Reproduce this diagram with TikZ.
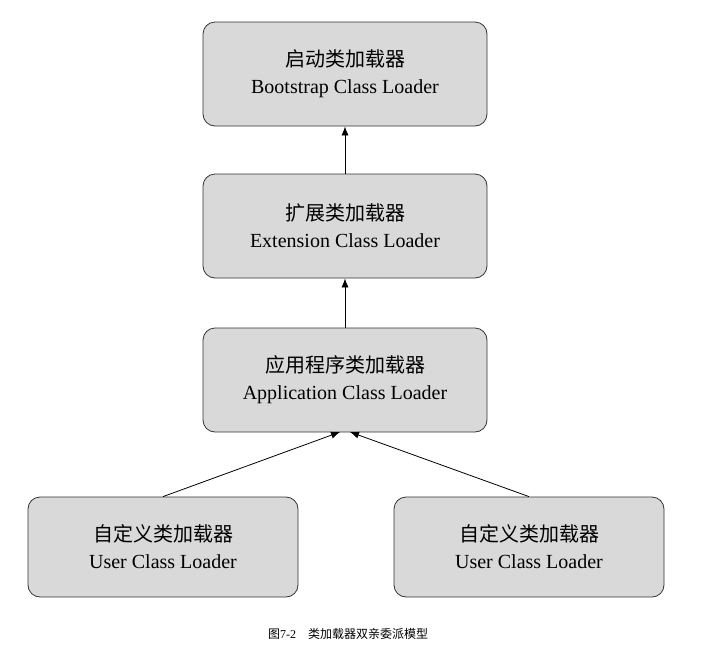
\documentclass[tikz,border=0pt]{standalone}
\usepackage{fontspec}
\setmainfont{Liberation Serif}
\newfontfamily\cjk{Noto Sans CJK SC}
\usepackage{tikz}
\usetikzlibrary{arrows.meta}

\begin{document}
\begin{tikzpicture}[
    x=1pt, y=-1pt,
    loader/.style={
        draw=black!80, % Dark border
        rounded corners=12pt,
        fill=black!15, % Light gray fill
        minimum width=284pt,
        minimum height=104pt,
        align=center,
        line width=0.8pt,
        font=\fontsize{20}{27}\selectfont
    },
    up/.style={draw, line width=0.8pt, -{Latex[length=9pt,width=7pt]}}
]
\useasboundingbox (0,0) rectangle (702,646);

\node[loader] (boot) at (345,74) {{\cjk 启动类加载器}\\Bootstrap Class Loader};
\node[loader] (ext) at (345,226) {{\cjk 扩展类加载器}\\Extension Class Loader};
\node[loader] (app) at (345,380) {{\cjk 应用程序类加载器}\\Application Class Loader};
\node[loader, minimum width=270pt, minimum height=100pt] (userA) at (163,547) {{\cjk 自定义类加载器}\\User Class Loader};
\node[loader, minimum width=270pt, minimum height=100pt] (userB) at (529,547) {{\cjk 自定义类加载器}\\User Class Loader};

\draw[up] (ext) -- (boot);
\draw[up] (app) -- (ext);
\coordinate (inA) at (340,432);
\coordinate (inB) at (350,432);
\draw[up] (userA.north) -- (inA);
\draw[up] (userB.north) -- (inB);

\node[font=\fontsize{12}{14}\selectfont] (caption) at (348,634) {{\cjk 图}7-2\quad{\cjk 类加载器双亲委派模型}};
\end{tikzpicture}
\end{document}
